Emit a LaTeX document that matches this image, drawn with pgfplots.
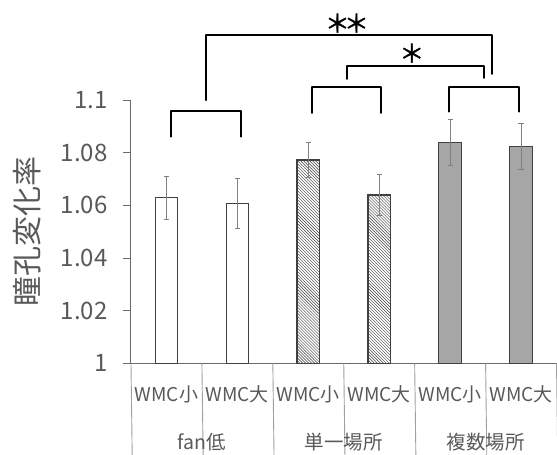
\documentclass[border=0pt]{standalone}
\usepackage{fontspec}
\setmainfont{Noto Sans CJK JP}
\usepackage{pgfplots}
\pgfplotsset{compat=1.18}
\usetikzlibrary{patterns}
\definecolor{txt}{HTML}{595959}
\definecolor{axisc}{HTML}{6A6A6A}
\definecolor{sepc}{HTML}{A0A0A0}
\definecolor{barc}{HTML}{404040}
\definecolor{grayfill}{HTML}{A6A6A6}
\definecolor{errc}{HTML}{808080}
\begin{document}
\begin{tikzpicture}
\useasboundingbox (-131bp,-91.7bp) rectangle (426bp,363.3bp);
\begin{axis}[
  at={(0,0)}, anchor=south west,
  scale only axis, width=425.5bp, height=263.3bp,
  xmin=-0.5, xmax=5.5, ymin=1, ymax=1.1,
  clip mode=individual,
  axis x line*=bottom, axis y line*=left,
  axis line style={axisc, line width=1bp, -},
  ytick={1,1.02,1.04,1.06,1.08,1.1},
  yticklabels={1,1.02,1.04,1.06,1.08,1.1},
  xtick={0,1,2,3,4,5},
  xticklabels={WMC小,WMC大,WMC小,WMC大,WMC小,WMC大},
  xtick style={draw=none},
  ytick style={axisc, line width=1bp},
  tick align=outside, major tick length=8bp,
  yticklabel style={font=\fontsize{24bp}{26bp}\selectfont, text=txt},
  yticklabel shift=12bp,
  xticklabel style={font=\fontsize{19bp}{21bp}\selectfont, text=txt, anchor=center, yshift=-23.4bp},
  ylabel={瞳孔変化率},
  ylabel style={at={(axis description cs:0,0.5)}, anchor=center, yshift=104bp, font=\fontsize{30bp}{32bp}\selectfont, text=txt},
  /pgf/number format/assume math mode=true,
  ybar, bar width=22.5bp, bar shift=0pt,
  error bars/y dir=both, error bars/y explicit,
  error bars/error bar style={errc, line width=0.8bp},
  error bars/error mark options={errc, rotate=90, mark size=2.6bp, line width=0.8bp},
]
\addplot[fill=white, draw=barc, line width=1.2bp] table[x=x, y=y, y error=e] {
x y e
0 1.0629 0.0081
1 1.0608 0.0094
};
\addplot[fill=white, draw=barc, line width=1.2bp, postaction={pattern=north west lines, pattern color=black!75}] table[x=x, y=y, y error=e] {
x y e
2 1.0772 0.0067
3 1.0639 0.0078
};
\addplot[fill=grayfill, draw=barc, line width=1.2bp] table[x=x, y=y, y error=e] {
x y e
4 1.0840 0.0087
5 1.0824 0.0088
};
% category separators
\draw[sepc, line width=0.9bp] (axis cs:-0.5,1) -- ++(0,-91.7bp);
\draw[sepc, line width=0.9bp] (axis cs:1.5,1) -- ++(0,-91.7bp);
\draw[sepc, line width=0.9bp] (axis cs:3.5,1) -- ++(0,-91.7bp);
\draw[sepc, line width=0.9bp] (axis cs:5.5,1) -- ++(0,-91.7bp);
\draw[sepc, line width=0.9bp] (axis cs:0.5,1) -- ++(0,-48.7bp);
\draw[sepc, line width=0.9bp] (axis cs:2.5,1) -- ++(0,-48.7bp);
\draw[sepc, line width=0.9bp] (axis cs:4.5,1) -- ++(0,-48.7bp);
\node[text=txt, font=\fontsize{19.5bp}{21bp}\selectfont, yshift=-78.4bp] at (axis cs:0.5,1) {fan低};
\node[text=txt, font=\fontsize{19.5bp}{21bp}\selectfont, yshift=-78.4bp] at (axis cs:2.5,1) {単一場所};
\node[text=txt, font=\fontsize{19.5bp}{21bp}\selectfont, yshift=-78.4bp] at (axis cs:4.5,1) {複数場所};
% significance brackets
\draw[black, line width=2bp, line join=round, line cap=round] (axis cs:0.065,1.0861) -- (axis cs:0.065,1.0958) -- (axis cs:1.05,1.0958) -- (axis cs:1.05,1.0861);
\draw[black, line width=2bp, line join=round, line cap=round] (axis cs:2.05,1.0951) -- (axis cs:2.05,1.1048) -- (axis cs:3.03,1.1048) -- (axis cs:3.03,1.0951);
\draw[black, line width=2bp, line join=round, line cap=round] (axis cs:3.98,1.0956) -- (axis cs:3.98,1.1049) -- (axis cs:4.97,1.1049) -- (axis cs:4.97,1.0956);
\draw[black, line width=2bp, line join=round, line cap=round] (axis cs:0.555,1.1) -- (axis cs:0.555,1.1247) -- (axis cs:4.595,1.1247) -- (axis cs:4.595,1.1099);
\draw[black, line width=2bp, line join=round, line cap=round] (axis cs:2.547,1.108) -- (axis cs:2.547,1.113) -- (axis cs:4.476,1.113) -- (axis cs:4.476,1.1084);
\node[font=\fontsize{25bp}{27bp}\selectfont\addfontfeatures{FakeBold=1.5}, inner sep=0pt] at (axis cs:2.545,1.1292) {＊\kern-6bp＊};
\node[font=\fontsize{25bp}{27bp}\selectfont\addfontfeatures{FakeBold=1.5}, inner sep=0pt] at (axis cs:3.46,1.1178) {＊};
\end{axis}
\end{tikzpicture}
\end{document}
